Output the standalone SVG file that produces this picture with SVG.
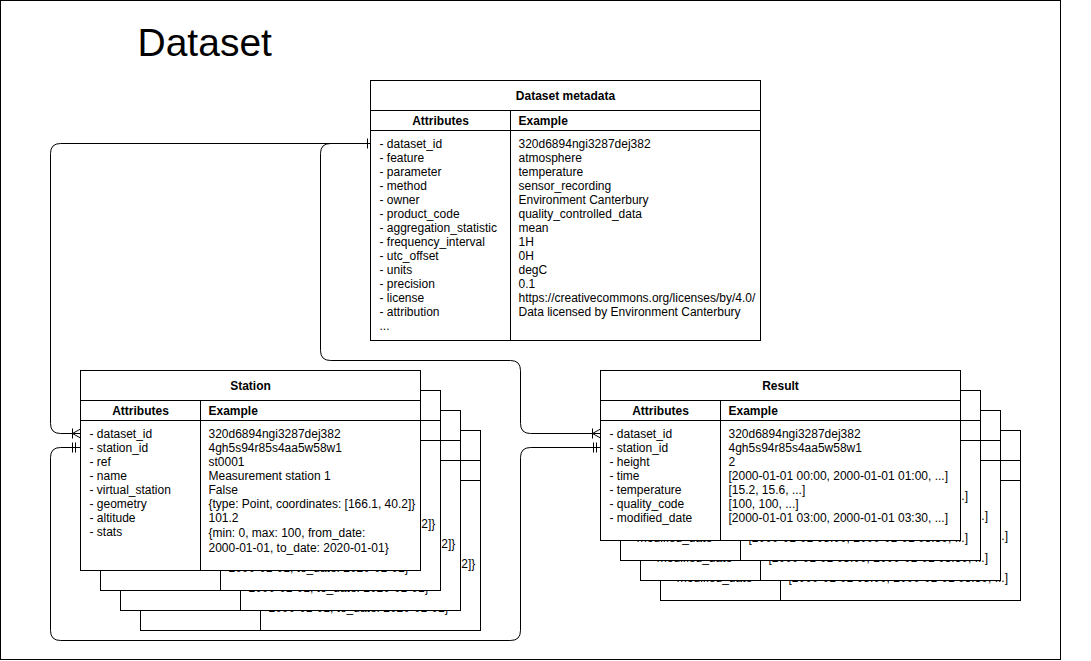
<svg xmlns="http://www.w3.org/2000/svg" xmlns:xlink="http://www.w3.org/1999/xlink" width="1091" height="661" viewBox="0 0 1091 661">
<style>
.t{font-family:"Liberation Sans",Arial,Helvetica,sans-serif;font-size:12px;fill:#000}
.b{font-weight:bold}
.c{text-anchor:middle}
.box{fill:#fff;stroke:#000;stroke-width:1}
.ln{stroke:#000;stroke-width:1;fill:none}
.edge{fill:none;stroke:#000;stroke-width:1}
.title{font-family:"Liberation Sans",Arial,Helvetica,sans-serif;font-size:39px;fill:#000}
</style>
<rect x="0" y="0" width="1091" height="661" fill="#fff"/>
<g transform="translate(0.5,0.5)">
<rect id="frame" x="0" y="0" width="1060" height="659" class="ln"/>
<text class="title" x="137" y="55">Dataset</text>

<g id="connectors">
  <path class="edge" d="M370 143 H60 Q50 143 50 153 V423 Q50 433 60 433 H80"/>
  <path class="edge" d="M370 143 H330 Q320 143 320 153 V350 Q320 360 330 360 H510 Q520 360 520 370 V423 Q520 433 530 433 H600"/>
  <path class="edge" d="M80 447 H60 Q50 447 50 457 V630 Q50 640 60 640 H510 Q520 640 520 630 V457 Q520 447 530 447 H600"/>
  <path class="edge" d="M367 138 V148"/>
  <path class="edge" d="M72 428 V438 M72 433 L80 428.5 M72 433 L80 437.5"/>
  <path class="edge" d="M592 428 V438 M592 433 L600 428.5 M592 433 L600 437.5"/>
  <path class="edge" d="M72 442 V452 M75 442 V452"/>
  <path class="edge" d="M593 442 V452 M596 442 V452"/>
</g>

<g id="dataset-metadata">
  <rect class="box" x="370" y="80" width="390" height="260"/>
  <path class="ln" d="M370 110 H760 M370 130 H760 M510 110 V340"/>
  <text class="t b c" x="565" y="99.5">Dataset metadata</text>
  <text class="t b c" x="440" y="124.5">Attributes</text>
  <text class="t b" x="518" y="124.5">Example</text>
  <text class="t" x="379" y="147"><tspan x="379">- dataset_id</tspan><tspan x="379" dy="14">- feature</tspan><tspan x="379" dy="14">- parameter</tspan><tspan x="379" dy="14">- method</tspan><tspan x="379" dy="14">- owner</tspan><tspan x="379" dy="14">- product_code</tspan><tspan x="379" dy="14">- aggregation_statistic</tspan><tspan x="379" dy="14">- frequency_interval</tspan><tspan x="379" dy="14">- utc_offset</tspan><tspan x="379" dy="14">- units</tspan><tspan x="379" dy="14">- precision</tspan><tspan x="379" dy="14">- license</tspan><tspan x="379" dy="14">- attribution</tspan><tspan x="379" dy="14">...</tspan></text>
  <text class="t" x="518" y="147"><tspan x="518">320d6894ngi3287dej382</tspan><tspan x="518" dy="14">atmosphere</tspan><tspan x="518" dy="14">temperature</tspan><tspan x="518" dy="14">sensor_recording</tspan><tspan x="518" dy="14">Environment Canterbury</tspan><tspan x="518" dy="14">quality_controlled_data</tspan><tspan x="518" dy="14">mean</tspan><tspan x="518" dy="14">1H</tspan><tspan x="518" dy="14">0H</tspan><tspan x="518" dy="14">degC</tspan><tspan x="518" dy="14">0.1</tspan><tspan x="518" dy="14">https://creativecommons.org/licenses/by/4.0/</tspan><tspan x="518" dy="14">Data licensed by Environment Canterbury</tspan></text>
</g>

<g id="station">
  <use xlink:href="#station-card" href="#station-card" transform="translate(60,60)"/>
  <use xlink:href="#station-card" href="#station-card" transform="translate(40,40)"/>
  <use xlink:href="#station-card" href="#station-card" transform="translate(20,20)"/>
  <g id="station-card">
    <rect class="box" x="80" y="370" width="340" height="200"/>
    <path class="ln" d="M80 400 H420 M80 420 H420 M200 400 V570"/>
    <text class="t b c" x="250" y="389.5">Station</text>
    <text class="t b c" x="140" y="414.5">Attributes</text>
    <text class="t b" x="208" y="414.5">Example</text>
    <text class="t" x="89" y="437"><tspan x="89">- dataset_id</tspan><tspan x="89" dy="14">- station_id</tspan><tspan x="89" dy="14">- ref</tspan><tspan x="89" dy="14">- name</tspan><tspan x="89" dy="14">- virtual_station</tspan><tspan x="89" dy="14">- geometry</tspan><tspan x="89" dy="14">- altitude</tspan><tspan x="89" dy="14">- stats</tspan></text>
    <text class="t" x="208" y="437"><tspan x="208">320d6894ngi3287dej382</tspan><tspan x="208" dy="14">4gh5s94r85s4aa5w58w1</tspan><tspan x="208" dy="14">st0001</tspan><tspan x="208" dy="14">Measurement station 1</tspan><tspan x="208" dy="14">False</tspan><tspan x="208" dy="14">{type: Point, coordinates: [166.1, 40.2]}</tspan><tspan x="208" dy="14">101.2</tspan><tspan x="208" dy="15">{min: 0, max: 100, from_date:</tspan><tspan x="208" dy="15">2000-01-01, to_date: 2020-01-01}</tspan></text>
  </g>
</g>

<g id="result">
  <use xlink:href="#result-card" href="#result-card" transform="translate(60,60)"/>
  <use xlink:href="#result-card" href="#result-card" transform="translate(40,40)"/>
  <use xlink:href="#result-card" href="#result-card" transform="translate(20,20)"/>
  <g id="result-card">
    <rect class="box" x="600" y="370" width="360" height="170"/>
    <path class="ln" d="M600 400 H960 M600 420 H960 M720 400 V540"/>
    <text class="t b c" x="780" y="389.5">Result</text>
    <text class="t b c" x="660" y="414.5">Attributes</text>
    <text class="t b" x="728" y="414.5">Example</text>
    <text class="t" x="609" y="437"><tspan x="609">- dataset_id</tspan><tspan x="609" dy="14">- station_id</tspan><tspan x="609" dy="14">- height</tspan><tspan x="609" dy="14">- time</tspan><tspan x="609" dy="14">- temperature</tspan><tspan x="609" dy="14">- quality_code</tspan><tspan x="609" dy="14">- modified_date</tspan></text>
    <text class="t" x="728" y="437"><tspan x="728">320d6894ngi3287dej382</tspan><tspan x="728" dy="14">4gh5s94r85s4aa5w58w1</tspan><tspan x="728" dy="14">2</tspan><tspan x="728" dy="14">[2000-01-01 00:00, 2000-01-01 01:00, ...]</tspan><tspan x="728" dy="14">[15.2, 15.6, ...]</tspan><tspan x="728" dy="14">[100, 100, ...]</tspan><tspan x="728" dy="14">[2000-01-01 03:00, 2000-01-01 03:30, ...]</tspan></text>
  </g>
</g>
</g>
</svg>
